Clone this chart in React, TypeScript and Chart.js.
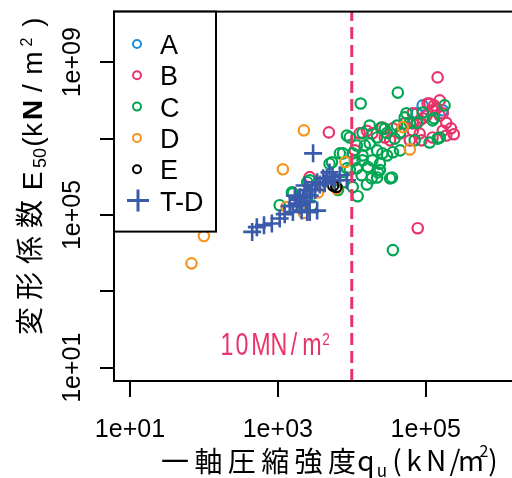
import React, { useEffect, useRef } from 'react';
import { Chart, registerables } from 'chart.js';

Chart.register(...registerables);

// ---------- data ----------
const groupNames = ['A', 'B', 'C', 'D', 'E', 'T-D'];
const groupColors = ['#1E8FD5', '#E8336B', '#00A651', '#F7941E', '#000000', '#3A5BAA'];

const quA = [7.6e4, 1.7e5, 9.1e4];
const e50A = [4.6e7, 5.5e7, 7.4e7];

const quB = [1.45e5, 4.9e3, 7.8e4, 2.4e5, 2.6e4, 3.6e4, 6.7e4, 8.3e4, 1.13e5, 1.4e5, 1.7e5, 1.03e5, 8.3e4, 1.24e5, 1.9e5, 8.8e4, 1.9e4, 3.3e4, 6.7e4, 1.24e5, 1.55e5, 1.06e5, 1.55e5, 1.9e5, 1.7e5, 7.6e4, 5.2e4, 6.7e4, 2.8e4, 1.28e4, 1.6e4, 2.7e3, 9.1e4, 1.3e5, 4.5e4, 1.1e4, 2.2e5, 6.1e4];
const e50B = [4.0e8, 1.45e7, 4.5e4, 1.3e7, 1.95e7, 1.85e7, 2.5e7, 3.0e7, 8.3e7, 6.2e7, 4.6e7, 4.0e7, 1.35e7, 1.07e7, 1.2e7, 9.0e6, 1.37e7, 9.0e6, 4.6e7, 5.5e7, 1.0e8, 8.3e7, 4.0e7, 2.6e7, 1.6e7, 2.5e7, 2.5e7, 1.6e7, 1.07e7, 1.37e7, 1.6e7, 9.8e5, 3.4e7, 7.4e7, 1.37e7, 4.9e6, 1.85e7, 9.0e6];

const quC = [4.2e4, 1.32e4, 3.6e4, 1.8e5, 1.2e4, 1.03e4, 1.6e4, 3.3e4, 6.5e3, 2.25e4, 1.86e4, 1.6e3, 1.06e3, 5.4e3, 2.7e3, 6.9e3, 2.2e3, 1.75e4, 1.4e4, 8.6e3, 2.5e4, 3.0e4, 4.1e4, 5.2e4, 1.75e4, 1.17e4, 2.2e4, 1.4e4, 3.0e4, 4.5e4, 1.03e4, 2.4e4, 1.65e4, 1.17e4, 3.5e4, 2.2e4, 9.4e3, 1.36e4, 9.4e3, 7.6e3, 8.6e3, 2.4e4, 5.5e4, 9.1e4, 1.3e5, 1.45e5, 1.13e5, 4.5e4, 6.1e4, 3.8e4, 2.6e4, 3.6e4, 1.4e4, 2.2e4, 2.8e4, 7.6e4, 1.24e5, 1.55e5, 5.0e3, 7.6e3, 1.55e3, 2.5e3, 2.9e3, 1.5e4, 7.1e4, 1.9e4, 1.1e4];
const e50C = [1.6e8, 8.3e7, 1.2e4, 7.4e7, 3.1e5, 5.4e5, 6.3e5, 9.1e5, 4.5e5, 1.3e6, 9.1e5, 3.7e5, 1.8e5, 2.4e6, 8.1e5, 4.1e6, 2.0e5, 2.2e7, 1.4e7, 1.2e7, 1.95e7, 1.4e7, 2.2e7, 3.6e7, 7.5e6, 6.6e6, 4.9e6, 3.6e6, 3.6e6, 4.9e6, 4.1e6, 2.2e6, 1.8e6, 1.66e6, 9.6e5, 9.6e5, 1.5e6, 1.1e6, 1.07e7, 4.1e6, 1.66e6, 1.5e6, 4.6e7, 4.8e7, 3.4e7, 1.0e7, 7.9e6, 1.45e7, 2.6e7, 1.0e7, 4.1e6, 4.4e6, 2.7e6, 1.07e7, 1.8e7, 2.6e7, 3.0e7, 1.07e7, 2.2e6, 7.2e5, 3.9e5, 7.2e5, 1.8e5, 6.6e6, 9.0e6, 2.7e6, 2.7e6];

const quD = [68, 100, 1.17e3, 2.25e3, 1.31e3, 2.25e3, 8.2e3, 4.9e4, 6.1e4, 6.2e3, 3.5e3];
const e50D = [5.4e3, 2.8e4, 1.57e6, 1.64e7, 1.62e5, 1.13e5, 2.43e6, 2.0e7, 5.2e6, 4.9e5, 3.9e5];

const quE = [6.2e3, 5.6e3];
const e50E = [5.4e5, 5.9e5];

const quTD = [4.5e2, 5.2e2, 8.3e2, 1.06e3, 3.0e3, 5.0e3, 3.4e3, 2.7e3, 2.0e3, 2.5e3, 3.4e3, 4.1e3, 5.5e3, 6.9e3, 1.8e3, 1.45e3, 2.2e3, 2.9e3, 3.7e3, 4.6e3, 8.6e3, 2.5e3, 1.6e3, 1.24e3, 1.7e3, 2.3e3, 2.7e3, 2.0e3, 3.2e3, 4.3e3, 5.9e3, 2.4e3, 1.9e3, 2.1e3, 6.5e2];
const e50TD = [3.6e4, 4.8e4, 6.0e4, 8.1e4, 4.1e6, 1.3e6, 1.3e5, 1.2e5, 2.9e5, 4.5e5, 7.2e5, 9.1e5, 9.8e5, 1.1e6, 2.0e5, 1.7e5, 2.8e5, 4.5e5, 6.3e5, 9.1e5, 8.1e5, 1.2e5, 1.2e5, 1.05e5, 3.2e5, 5.9e5, 3.2e5, 1.8e5, 4.5e5, 6.8e5, 8.1e5, 2.2e5, 2.5e5, 1.3e5, 5.4e4];

const qLimit = 1e4; // 10 MN/m2
const xTicks = [1e1, 1e3, 1e5];
const xTickLabels = ['1e+01', '1e+03', '1e+05'];
const yTicks = [1e1, 1e3, 1e5, 1e7, 1e9];
const yTickLabels = ['1e+01', '', '1e+05', '', '1e+09'];

const X_MIN = Math.pow(10, 0.784);
const X_MAX = Math.pow(10, 6.2);
const Y_MIN = Math.pow(10, 0.652);
const Y_MAX = Math.pow(10, 10.325);

const W = 526;
const H = 478;
const RED = '#E8336B';
const LATIN = '"Liberation Sans", Arial, sans-serif';
const CJK = '"Noto Sans CJK JP", "Noto Sans", sans-serif';

const pts = (xs: number[], ys: number[]) => xs.map((x, i) => ({ x, y: ys[i] }));

function drawChar(ctx: CanvasRenderingContext2D, ch: string, x: number, y: number, font: string, rot = 0, sx = 1) {
  ctx.save();
  ctx.translate(x, y);
  if (rot) ctx.rotate(rot);
  if (sx !== 1) ctx.scale(sx, 1);
  ctx.font = font;
  ctx.textAlign = 'center';
  ctx.textBaseline = 'alphabetic';
  ctx.fillText(ch, 0, 0);
  ctx.restore();
}

const rPlugin = {
  id: 'rstyle',
  afterDraw(chart: any) {
    const ctx: CanvasRenderingContext2D = chart.ctx;
    const a = chart.chartArea;
    const xs = chart.scales.x;
    const ys = chart.scales.y;
    ctx.save();
    // box
    ctx.strokeStyle = '#000';
    ctx.lineWidth = 2;
    ctx.strokeRect(a.left, a.top, a.right - a.left, a.bottom - a.top);

    // tick labels
    ctx.fillStyle = '#000';
    xTicks.forEach((v, i) => drawChar(ctx, xTickLabels[i], xs.getPixelForValue(v), 437, `25px ${LATIN}`));
    yTicks.forEach((v, i) => {
      if (!yTickLabels[i]) return;
      drawChar(ctx, yTickLabels[i], 80, ys.getPixelForValue(v), `25px ${LATIN}`, -Math.PI / 2);
    });

    // x title
    const xCjk = ['一', '軸', '圧', '縮', '強', '度'];
    xCjk.forEach((c, i) => drawChar(ctx, c, 175 + i * 33.4, 472, `28px ${CJK}`));
    drawChar(ctx, 'q', 366, 471, `28px ${CJK}`);
    drawChar(ctx, 'u', 382, 477, `17px ${CJK}`);
    const xUnit: [string, number][] = [['(', 397], ['k', 414], ['N', 436], ['/', 455], ['m', 471]];
    xUnit.forEach(([c, x]) => drawChar(ctx, c, x, 471, `28px ${CJK}`));
    drawChar(ctx, '2', 484, 457, `16px ${CJK}`);
    drawChar(ctx, ')', 493, 471, `28px ${CJK}`);

    // y title (rotated)
    const R = -Math.PI / 2;
    const yCjk: [string, number][] = [['変', 321], ['形', 286], ['係', 250], ['数', 214]];
    yCjk.forEach(([c, y]) => drawChar(ctx, c, 40, y, `28px ${CJK}`, R));
    drawChar(ctx, 'E', 42, 181, `28px ${LATIN}`, R);
    drawChar(ctx, '50', 46, 158, `18px ${LATIN}`, R);
    const yUnit: [string, number, string][] = [['(', 142, 'normal'], ['k', 130, 'normal'], ['N', 110, 'bold'], ['/', 88, 'normal'], ['m', 63, 'normal']];
    yUnit.forEach(([c, y, w]) => drawChar(ctx, c, 42, y, `${w} 28px ${LATIN}`, R));
    drawChar(ctx, '2', 32, 42, `16px ${LATIN}`, R);
    drawChar(ctx, ')', 42, 22, `28px ${LATIN}`, R);

    // 10MN/m2 annotation
    ctx.fillStyle = RED;
    const ann: [string, number][] = [['1', 227], ['0', 242], ['M', 261], ['N', 279], ['/', 294], ['m', 312]];
    ann.forEach(([c, x]) => drawChar(ctx, c, x, 355, `31px ${LATIN}`, 0, 0.75));
    drawChar(ctx, '2', 326, 345, `17px ${LATIN}`, 0, 0.8);

    // legend
    const lx0 = a.left, ly0 = a.top, lw = 102, lh = 220;
    ctx.fillStyle = '#fff';
    ctx.fillRect(lx0, ly0, lw, lh);
    ctx.strokeStyle = '#000';
    ctx.lineWidth = 2;
    ctx.strokeRect(lx0, ly0, lw, lh);
    groupNames.forEach((g, i) => {
      const cy = 44 + i * 31.3;
      const col = groupColors[i];
      ctx.strokeStyle = col;
      if (g === 'T-D') {
        ctx.lineWidth = 3;
        ctx.beginPath();
        ctx.moveTo(127, cy); ctx.lineTo(149, cy);
        ctx.moveTo(138, cy - 11); ctx.lineTo(138, cy + 11);
        ctx.stroke();
      } else {
        ctx.lineWidth = 2;
        ctx.beginPath();
        ctx.arc(137, cy, 4, 0, Math.PI * 2);
        ctx.stroke();
      }
      ctx.fillStyle = '#000';
      ctx.font = `27px ${LATIN}`;
      ctx.textAlign = 'left';
      ctx.textBaseline = 'alphabetic';
      ctx.fillText(g, 160, cy + 10);
    });
    ctx.restore();
  },
};

export default function App() {
  const ref = useRef<HTMLCanvasElement | null>(null);
  useEffect(() => {
    if (!ref.current) return;
    const circle = (label: string, xs: number[], ys: number[], color: string, order: number) => ({
      label,
      data: pts(xs, ys),
      pointStyle: 'circle',
      pointRadius: 5.2,
      pointBorderWidth: 2.2,
      borderColor: color,
      backgroundColor: 'rgba(0,0,0,0)',
      pointBackgroundColor: 'rgba(0,0,0,0)',
      pointBorderColor: color,
      order,
    });
    const chart = new Chart(ref.current, {
      type: 'scatter',
      data: {
        datasets: [
          {
            label: '10MN/m2',
            data: [{ x: qLimit, y: Y_MIN }, { x: qLimit, y: Y_MAX }],
            showLine: true,
            borderColor: RED,
            borderWidth: 3,
            borderDash: [12, 6],
            pointRadius: 0,
            order: 0,
          } as any,
          {
            label: 'T-D',
            data: pts(quTD, e50TD),
            pointStyle: 'cross',
            pointRadius: 9,
            pointBorderWidth: 2.6,
            borderColor: groupColors[5],
            pointBorderColor: groupColors[5],
            order: 1,
          } as any,
          circle('E', quE, e50E, groupColors[4], 2),
          circle('D', quD, e50D, groupColors[3], 3),
          circle('C', quC, e50C, groupColors[2], 4),
          circle('B', quB, e50B, groupColors[1], 5),
          circle('A', quA, e50A, groupColors[0], 6),
        ],
      },
      options: {
        responsive: false,
        animation: false,
        devicePixelRatio: 1,
        events: [],
        layout: { padding: { top: 11, right: 5.2, left: 0, bottom: 0 } },
        plugins: { legend: { display: false }, tooltip: { enabled: false } },
        scales: {
          x: {
            type: 'logarithmic',
            min: X_MIN,
            max: X_MAX,
            bounds: 'data',
            afterBuildTicks: (s: any) => { s.ticks = xTicks.map((v) => ({ value: v })); },
            afterFit: (s: any) => { s.height = 97; },
            ticks: { display: false },
            grid: { drawOnChartArea: false, drawTicks: true, tickLength: 16, color: '#000', lineWidth: 2 },
            border: { display: false },
          },
          y: {
            type: 'logarithmic',
            min: Y_MIN,
            max: Y_MAX,
            bounds: 'data',
            afterBuildTicks: (s: any) => { s.ticks = yTicks.map((v) => ({ value: v })); },
            afterFit: (s: any) => { s.width = 114; },
            ticks: { display: false },
            grid: { drawOnChartArea: false, drawTicks: true, tickLength: 14, color: '#000', lineWidth: 2 },
            border: { display: false },
          },
        },
      } as any,
      plugins: [rPlugin],
    });
    return () => chart.destroy();
  }, []);
  return (
    <div style={{ position: 'fixed', left: 0, top: 0, width: 512, height: H, overflow: 'hidden', background: '#fff' }}>
      <canvas ref={ref} width={W} height={H} style={{ width: W, height: H, display: 'block' }} />
    </div>
  );
}
